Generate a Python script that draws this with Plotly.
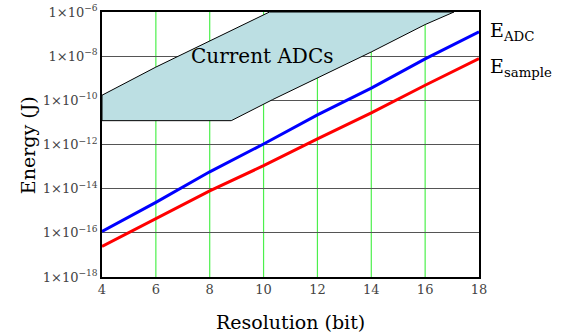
import plotly.graph_objects as go

# Data
resolution_bits = [4, 6, 8, 10, 12, 14, 16, 18]
e_adc = [1.15e-16, 2.4e-15, 5.8e-14, 1.05e-12, 2.2e-11, 3.6e-10, 7.5e-9, 1.26e-7]
e_sample = [2.4e-17, 4.2e-16, 7.9e-15, 1.1e-13, 1.8e-12, 2.7e-11, 4.8e-10, 7.8e-9]

adc_region_bits = [4, 8.8, 10.33, 12, 14, 16, 17.07, 10.22, 8, 6, 4, 4]
adc_region_energy = [1.2e-11, 1.2e-11, 1.07e-10, 1.0e-9, 1.55e-8, 2.7e-7, 1.0e-6,
                     1.0e-6, 4.7e-8, 3.2e-9, 1.7e-10, 1.2e-11]

x_ticks = [4, 6, 8, 10, 12, 14, 16, 18]
y_exponents = [-18, -16, -14, -12, -10, -8, -6]
y_tickvals = [10.0 ** e for e in y_exponents]
y_ticktext = ["1×10<sup>−%d</sup>" % (-e) for e in y_exponents]

FONT = "DejaVu Serif"

fig = go.Figure()
# green vertical grid lines
for t in x_ticks[1:-1]:
    fig.add_vline(x=t, line_color="#4cf04c", line_width=1.2, layer="below")

fig.add_trace(go.Scatter(
    x=adc_region_bits, y=adc_region_energy, mode="lines", fill="toself",
    fillcolor="#bcdfe3", line=dict(color="black", width=1), hoverinfo="skip",
    showlegend=False))
fig.add_trace(go.Scatter(x=resolution_bits, y=e_adc, mode="lines",
                         line=dict(color="#0000ff", width=3), showlegend=False))
fig.add_trace(go.Scatter(x=resolution_bits, y=e_sample, mode="lines",
                         line=dict(color="#ff0000", width=3), showlegend=False))

fig.add_annotation(x=9.93, y=-8.0, xref="x", yref="y", text="Current ADCs",
                   showarrow=False, font=dict(family=FONT, size=20, color="black"))
fig.add_annotation(x=1.025, y=0.925, xref="paper", yref="paper", xanchor="left",
                   yanchor="middle", text="E<sub>ADC</sub>", showarrow=False,
                   font=dict(family=FONT, size=19, color="black"))
fig.add_annotation(x=1.025, y=0.79, xref="paper", yref="paper", xanchor="left",
                   yanchor="middle", text="E<sub>sample</sub>", showarrow=False,
                   font=dict(family=FONT, size=19, color="black"))
fig.add_annotation(x=0.499, y=-0.17, xref="paper", yref="paper", xanchor="center",
                   yanchor="middle", text="Resolution (bit)", showarrow=False,
                   font=dict(family=FONT, size=19, color="black"))
fig.add_annotation(x=-0.196, y=0.498, xref="paper", yref="paper", xanchor="center",
                   yanchor="middle", text="Energy (J)", showarrow=False, textangle=-90,
                   font=dict(family=FONT, size=19, color="black"))

fig.update_xaxes(range=[4, 18], tickvals=x_ticks, showgrid=False,
                 showline=True, mirror=True,
                 linecolor="black", linewidth=1.5, zeroline=False, ticks="",
                 automargin=False,
                 tickfont=dict(family=FONT, size=13, color="#444"))
fig.update_yaxes(type="log", range=[-18, -6], tickvals=y_tickvals, ticktext=y_ticktext,
                 showgrid=True, gridcolor="#555", gridwidth=1, showline=True, mirror=True,
                 linecolor="black", linewidth=1.5, zeroline=False, ticks="",
                 automargin=False, ticklabeloverflow="allow",
                 tickfont=dict(family=FONT, size=13, color="#444"))

fig.update_layout(width=576, height=335, margin=dict(l=102, r=97, t=12, b=58),
                  plot_bgcolor="white", paper_bgcolor="white")

# remove the default 8px page margin so the figure fills the window
fig.write_html("out.html", config={"displayModeBar": False},
               post_script="document.body.style.margin = '0px';")
